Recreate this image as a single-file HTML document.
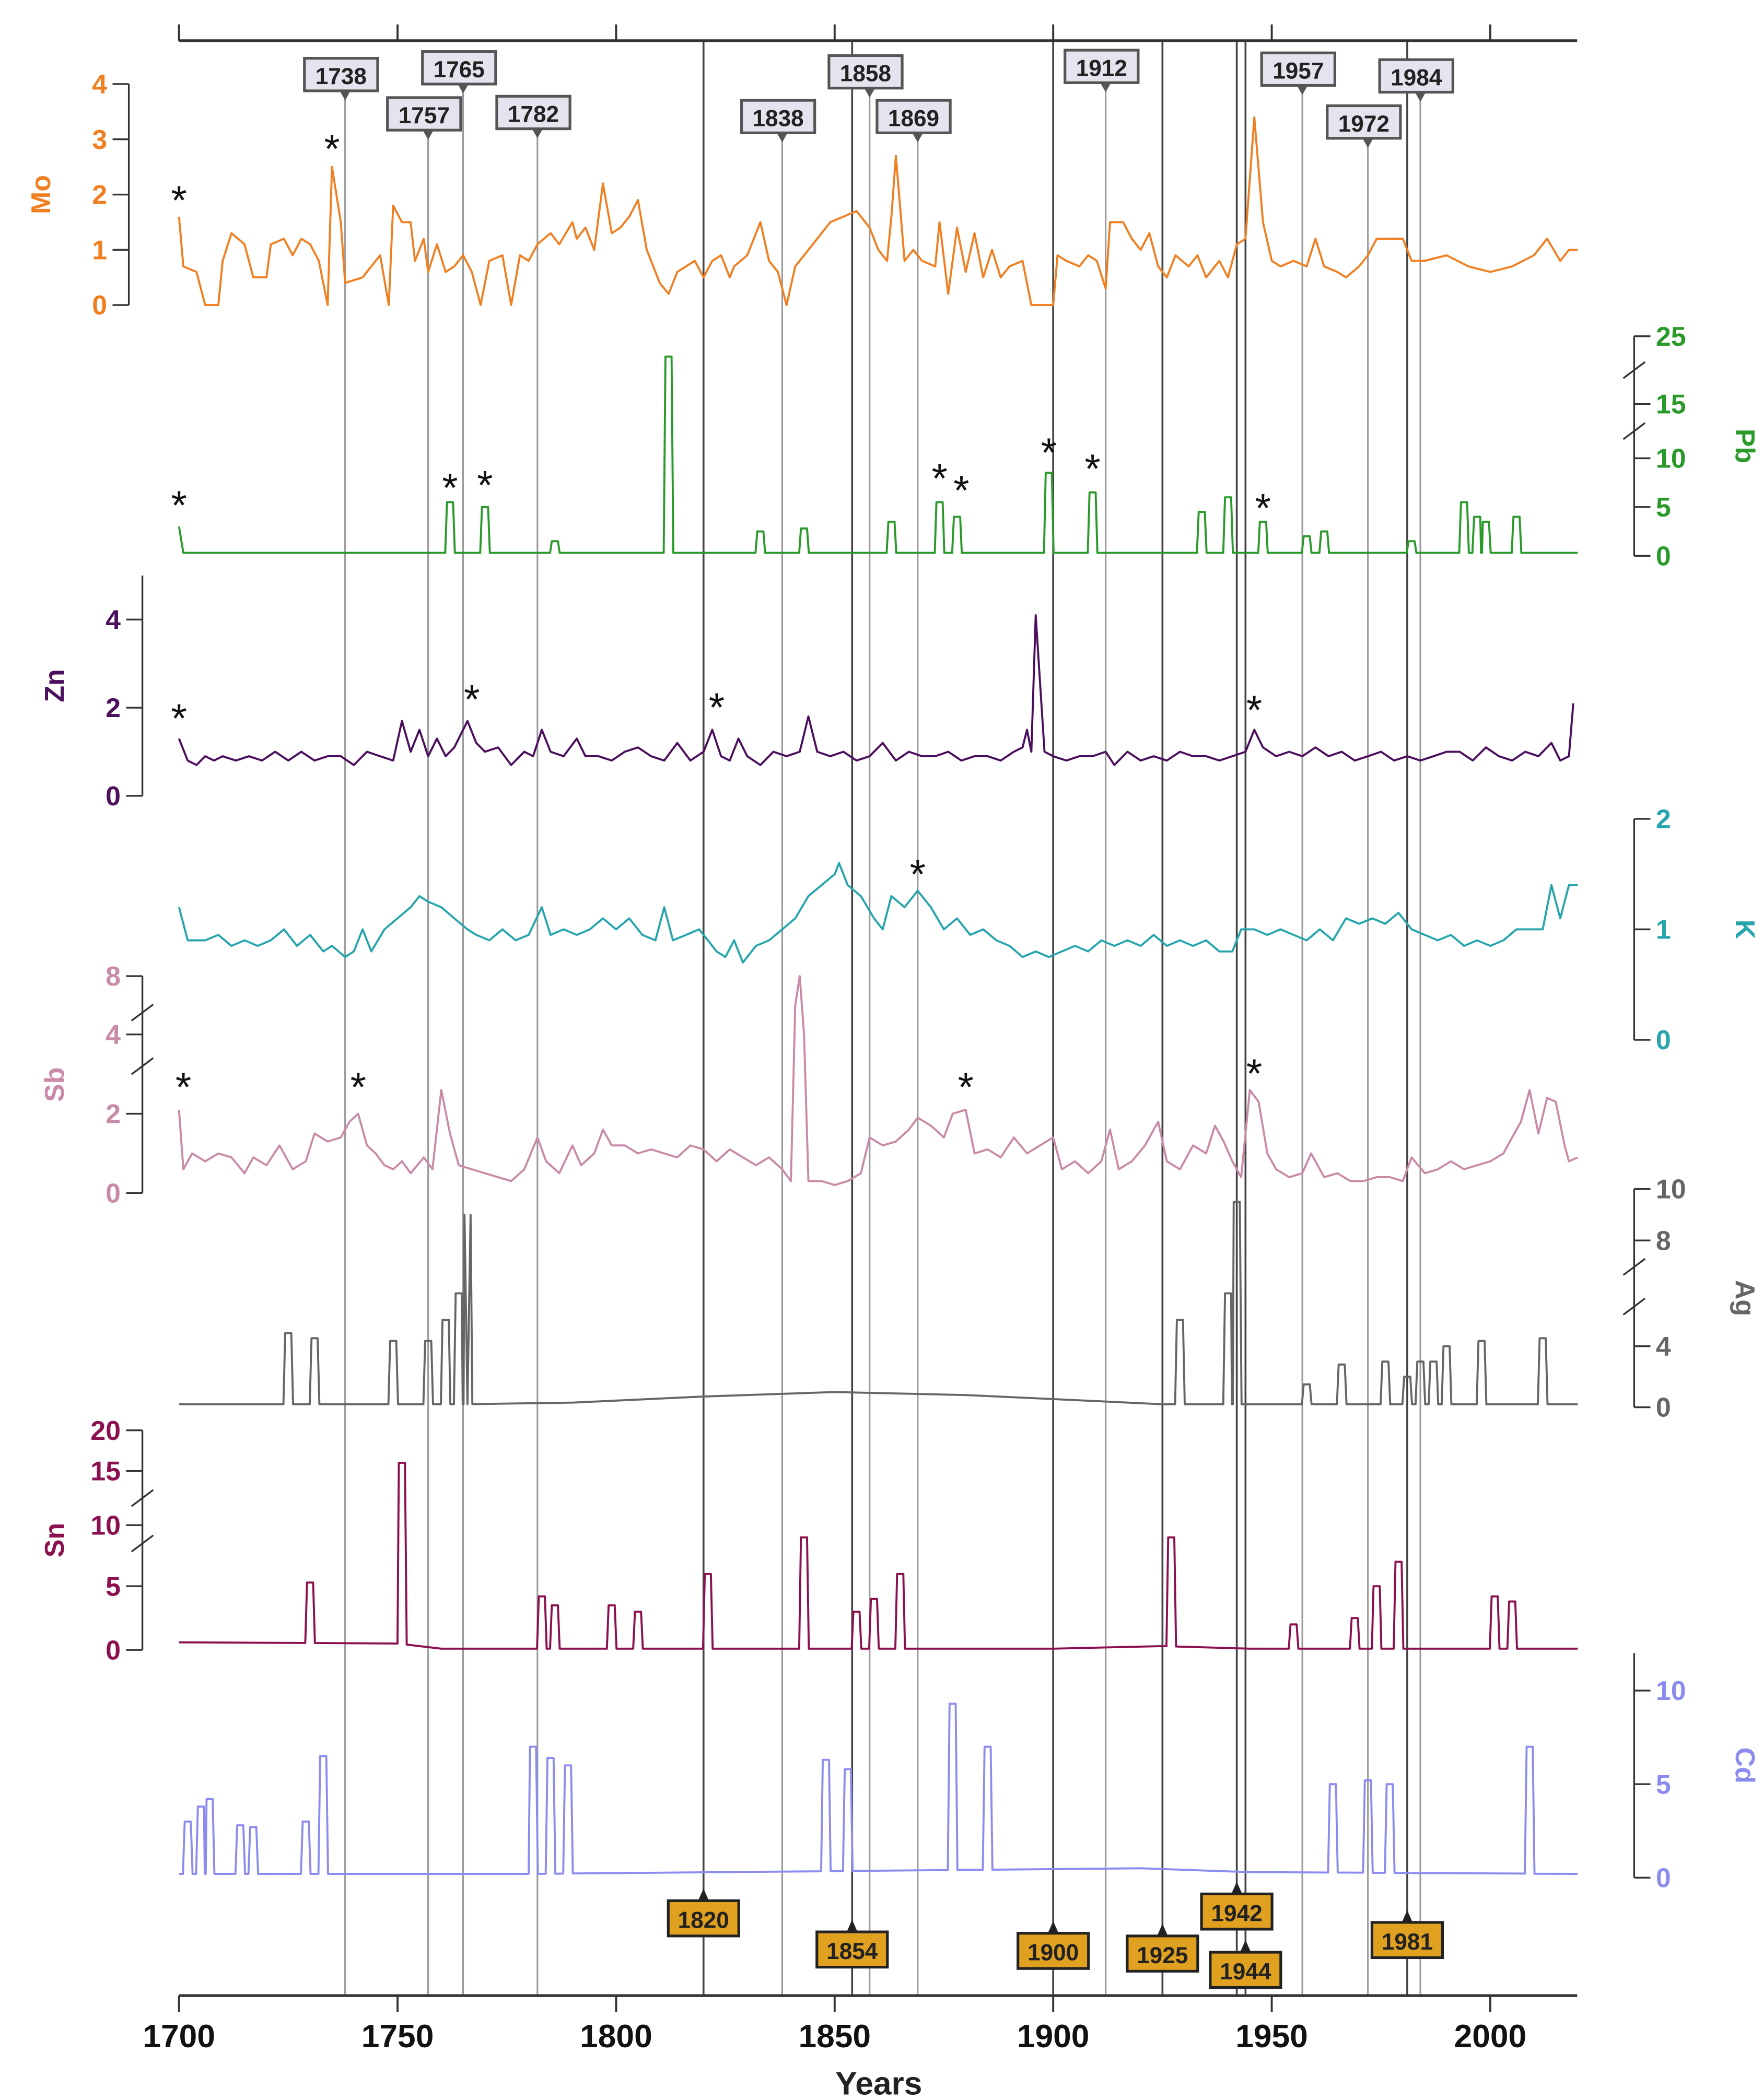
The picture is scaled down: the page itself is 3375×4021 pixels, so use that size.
<!DOCTYPE html>
<html><head><meta charset="utf-8"><style>html,body{margin:0;padding:0;background:#fff}svg{display:block}</style></head>
<body>
<svg id="chart" width="3375" height="4021" viewBox="0 0 1300 1549" preserveAspectRatio="none" xmlns="http://www.w3.org/2000/svg" font-family="Liberation Sans, sans-serif"></svg>
<script>
const moYears=[1700,1701,1704,1706,1709,1710,1712,1715,1717,1720,1721,1724,1726,1728,1730,1732,1734,1735,1737,1738,1742,1745,1746,1748,1749,1751,1753,1754,1756,1757,1759,1761,1763,1765,1767,1769,1771,1774,1776,1778,1780,1782,1785,1787,1790,1791,1793,1795,1797,1799,1801,1803,1805,1807,1810,1812,1814,1818,1820,1822,1824,1826,1827,1830,1833,1835,1837,1839,1841,1843,1846,1849,1852,1855,1858,1860,1862,1863,1864,1866,1868,1870,1873,1874,1876,1878,1880,1882,1884,1886,1888,1890,1893,1895,1900,1901,1903,1906,1908,1910,1912,1913,1916,1918,1920,1922,1924,1926,1928,1931,1933,1935,1938,1940,1942,1944,1946,1948,1950,1952,1955,1958,1960,1962,1965,1967,1970,1972,1974,1980,1982,1985,1990,1995,2000,2005,2010,2013,2016,2018,2020];
const moVals=[1.6,0.7,0.6,0,0,0.8,1.3,1.1,0.5,0.5,1.1,1.2,0.9,1.2,1.1,0.8,0,2.5,1.5,0.4,0.5,0.8,0.9,0,1.8,1.5,1.5,0.8,1.2,0.6,1.1,0.6,0.7,0.9,0.6,0,0.8,0.9,0,0.9,0.8,1.1,1.3,1.1,1.5,1.2,1.4,1.0,2.2,1.3,1.4,1.6,1.9,1.0,0.4,0.2,0.6,0.8,0.5,0.8,0.9,0.5,0.7,0.9,1.5,0.8,0.6,0,0.7,0.9,1.2,1.5,1.6,1.7,1.4,1.0,0.8,1.6,2.7,0.8,1.0,0.8,0.7,1.5,0.2,1.4,0.6,1.3,0.5,1.0,0.5,0.7,0.8,0,0,0.9,0.8,0.7,0.9,0.8,0.3,1.5,1.5,1.2,1.0,1.3,0.7,0.5,0.9,0.7,0.9,0.5,0.8,0.5,1.1,1.2,3.4,1.5,0.8,0.7,0.8,0.7,1.2,0.7,0.6,0.5,0.7,0.9,1.2,1.2,0.8,0.8,0.9,0.7,0.6,0.7,0.9,1.2,0.8,1.0,1.0];
const znYears=[1700,1702,1704,1706,1708,1710,1713,1716,1719,1722,1725,1728,1731,1734,1737,1740,1743,1746,1749,1751,1753,1755,1757,1759,1761,1763,1766,1768,1770,1773,1776,1779,1781,1783,1785,1788,1791,1793,1796,1799,1802,1805,1808,1811,1814,1817,1820,1822,1824,1826,1828,1830,1833,1836,1839,1842,1844,1846,1849,1852,1855,1858,1861,1864,1867,1870,1873,1876,1879,1882,1885,1888,1891,1893,1894,1895,1896,1898,1900,1903,1906,1909,1912,1914,1917,1920,1923,1926,1929,1932,1935,1938,1941,1944,1946,1948,1951,1954,1957,1960,1963,1966,1969,1972,1975,1978,1981,1984,1987,1990,1993,1996,1999,2002,2005,2008,2011,2014,2016,2018,2019];
const znVals=[1.3,0.8,0.7,0.9,0.8,0.9,0.8,0.9,0.8,1.0,0.8,1.0,0.8,0.9,0.9,0.7,1.0,0.9,0.8,1.7,1.0,1.5,0.9,1.3,0.9,1.1,1.7,1.2,1.0,1.1,0.7,1.0,0.9,1.5,1.0,0.9,1.3,0.9,0.9,0.8,1.0,1.1,0.9,0.8,1.2,0.8,1.0,1.5,0.9,0.8,1.3,0.9,0.7,1.0,0.9,1.0,1.8,1.0,0.9,1.0,0.8,0.9,1.2,0.8,1.0,0.9,0.9,1.0,0.8,0.9,0.9,0.8,1.0,1.1,1.5,1.0,4.1,1.0,0.9,0.8,0.9,0.9,1.0,0.7,1.0,0.8,0.9,0.8,1.0,0.9,0.9,0.8,0.9,1.0,1.5,1.1,0.9,1.0,0.9,1.1,0.9,1.0,0.8,0.9,1.0,0.8,0.9,0.8,0.9,1.0,1.0,0.8,1.1,0.9,0.8,1.0,0.9,1.2,0.8,0.9,2.1];
const kYears=[1700,1702,1706,1709,1712,1715,1718,1721,1724,1727,1730,1733,1735,1738,1740,1742,1744,1747,1750,1753,1755,1757,1760,1763,1766,1768,1771,1774,1777,1780,1783,1785,1788,1791,1794,1797,1800,1803,1806,1809,1811,1813,1816,1819,1821,1823,1825,1827,1829,1832,1835,1838,1841,1844,1847,1850,1851,1853,1856,1859,1861,1863,1866,1869,1872,1875,1878,1881,1884,1887,1890,1893,1896,1899,1902,1905,1908,1911,1914,1917,1920,1923,1926,1929,1932,1935,1938,1941,1943,1946,1949,1952,1955,1958,1961,1964,1967,1970,1973,1976,1979,1982,1985,1988,1991,1994,1997,2000,2003,2006,2009,2012,2014,2016,2018,2020];
const kVals=[1.2,0.9,0.9,0.95,0.85,0.9,0.85,0.9,1.0,0.85,0.95,0.8,0.85,0.75,0.8,1.0,0.8,1.0,1.1,1.2,1.3,1.25,1.2,1.1,1.0,0.95,0.9,1.0,0.9,0.95,1.2,0.95,1.0,0.95,1.0,1.1,1.0,1.1,0.95,0.9,1.2,0.9,0.95,1.0,0.9,0.8,0.75,0.9,0.7,0.85,0.9,1.0,1.1,1.3,1.4,1.5,1.6,1.4,1.3,1.1,1.0,1.3,1.2,1.35,1.2,1.0,1.1,0.95,1.0,0.9,0.85,0.75,0.8,0.75,0.8,0.85,0.8,0.9,0.85,0.9,0.85,0.95,0.85,0.9,0.85,0.9,0.8,0.8,1.0,1.0,0.95,1.0,0.95,0.9,1.0,0.9,1.1,1.05,1.1,1.05,1.15,1.0,0.95,0.9,0.95,0.85,0.9,0.85,0.9,1.0,1.0,1.0,1.4,1.1,1.4,1.4];
const sbYears=[1700,1701,1703,1706,1709,1712,1715,1717,1720,1723,1726,1729,1731,1734,1737,1739,1741,1743,1745,1747,1749,1751,1753,1756,1758,1760,1762,1764,1767,1770,1773,1776,1779,1782,1784,1787,1790,1792,1795,1797,1799,1802,1805,1808,1811,1814,1817,1820,1823,1826,1829,1832,1835,1838,1840,1841,1842,1843,1844,1847,1850,1853,1856,1858,1861,1864,1867,1869,1872,1875,1877,1880,1882,1885,1888,1891,1894,1897,1900,1902,1905,1908,1911,1913,1915,1918,1921,1924,1926,1929,1932,1935,1937,1939,1941,1943,1945,1947,1949,1951,1954,1957,1959,1962,1965,1968,1971,1974,1977,1980,1982,1985,1988,1991,1994,1997,2000,2003,2005,2007,2009,2011,2013,2015,2017,2018,2020];
const sbVals=[2.1,0.6,1.0,0.8,1.0,0.9,0.5,0.9,0.7,1.2,0.6,0.8,1.5,1.3,1.4,1.8,2.0,1.2,1.0,0.7,0.6,0.8,0.5,0.9,0.6,2.6,1.5,0.7,0.6,0.5,0.4,0.3,0.6,1.4,0.8,0.5,1.2,0.7,1.0,1.6,1.2,1.2,1.0,1.1,1.0,0.9,1.2,1.1,0.8,1.1,0.9,0.7,0.9,0.6,0.3,6,8,4,0.3,0.3,0.2,0.3,0.5,1.4,1.2,1.3,1.6,1.9,1.7,1.4,2.0,2.1,1.0,1.1,0.9,1.4,1.0,1.2,1.4,0.6,0.8,0.5,0.8,1.6,0.6,0.8,1.2,1.8,0.8,0.6,1.2,1.0,1.7,1.3,0.8,0.4,2.6,2.3,1.0,0.6,0.4,0.5,1.0,0.4,0.5,0.3,0.3,0.4,0.4,0.3,0.9,0.5,0.6,0.8,0.6,0.7,0.8,1.0,1.4,1.8,2.6,1.5,2.4,2.3,1.2,0.8,0.9];
// spike series: baseline + peaks
const pbBaseYears=[1700,1701,2020];
const pbBaseVals=[3,0.3,0.3];
const pbPeakYears=[1762,1770,1786,1812,1833,1843,1863,1874,1878,1899,1909,1934,1940,1948,1958,1962,1982,1994,1997,1999,2006];
const pbPeakVals=[5.5,5,1.5,22,2.5,2.8,3.5,5.5,4,8.5,6.5,4.5,6,3.5,2,2.5,1.5,5.5,4,3.5,4];
const agBaseYears=[1700,1766,1790,1820,1850,1880,1910,1925,2020];
const agBaseVals=[0.2,0.2,0.3,0.7,1.0,0.8,0.4,0.2,0.2];
const agPeakYears=[1725,1731,1749,1757,1761,1764,1766,1929,1940,1942,1958,1966,1976,1981,1984,1987,1990,1998,2012];
const agPeakVals=[4.5,4.3,4.2,4.2,5,6,9,5,6,9.5,1.5,2.8,3,2,3,3,4,4.2,4.3];
const snBaseYears=[1700,1750,1760,1900,1925,1945,2020];
const snBaseVals=[0.6,0.5,0.1,0.1,0.3,0.1,0.1];
const snPeakYears=[1730,1751,1783,1786,1799,1805,1821,1843,1855,1859,1865,1927,1955,1969,1974,1979,2001,2005];
const snPeakVals=[5.3,16,4.2,3.5,3.5,3,6,9,3,4,6,9,2,2.5,5,7,4.2,3.8];
const cdBaseYears=[1700,1780,1920,1945,2020];
const cdBaseVals=[0.2,0.2,0.5,0.3,0.2];
const cdPeakYears=[1702,1705,1707,1714,1717,1729,1733,1781,1785,1789,1848,1853,1877,1885,1964,1972,1977,2009];
const cdPeakVals=[3,3.8,4.2,2.8,2.7,3,6.5,7,6.4,6,6.3,5.8,9.3,7,5,5.2,5,7];
const lightLines=[1738,1757,1765,1782,1838,1858,1869,1912,1957,1972,1984];
const lightTagY=[55,84,50,83,86,53,86,49,51,90,56];
const darkLines=[1820,1854,1900,1925,1942,1944,1981];
const darkTagY=[1415,1438,1439,1441,1410,1453,1431];
const xTicks=[1700,1750,1800,1850,1900,1950,2000];

const svg=document.getElementById('chart');
const NS='http://www.w3.org/2000/svg';
function X(y){return 132+(y-1700)*3.223;}
function pw(stops){return v=>{for(let i=0;i<stops.length-1;i++){const a=stops[i],b=stops[i+1];if(v<=b[0]||i==stops.length-2){return a[1]+(v-a[0])/(b[0]-a[0])*(b[1]-a[1]);}}};}
function mk(tag,attrs,parent){const e=document.createElementNS(NS,tag);for(const k in attrs)e.setAttribute(k,attrs[k]);(parent||svg).appendChild(e);return e;}
function interp(xs,vs,t){for(let i=0;i<xs.length-1;i++){if(t<=xs[i+1])return vs[i]+(t-xs[i])/(xs[i+1]-xs[i])*(vs[i+1]-vs[i]);}return vs[vs.length-1];}

const S={
 Mo:{y:pw([[0,225],[4,62]]),c:'#f07f22'},
 Pb:{y:pw([[0,410],[10,338],[15,298],[25,248]]),c:'#2a9a2a'},
 Zn:{y:pw([[0,587],[4,457]]),c:'#4b0f5e'},
 K:{y:pw([[0,767],[2,604]]),c:'#27a5ad'},
 Sb:{y:pw([[0,880],[4,763],[8,720]]),c:'#c98aa8'},
 Ag:{y:pw([[0,1038],[4,993],[8,915],[10,877]]),c:'#666666'},
 Sn:{y:pw([[0,1217],[5,1170],[10,1125],[15,1085],[20,1055]]),c:'#8b1050'},
 Cd:{y:pw([[0,1385],[10,1247]]),c:'#8c8cf0'}
};

// vertical lines
lightLines.forEach((yr,i)=>{const l=mk('line',{x1:X(yr),x2:X(yr),y1:lightTagY[i]+8,y2:1472,stroke:'#999','stroke-width':1.2});
});
darkLines.forEach((yr,i)=>{const l=mk('line',{x1:X(yr),x2:X(yr),y1:30,y2:1472,stroke:'#444','stroke-width':1.4});
});

function drawLine(name,xs,vs){const s=S[name];const pts=xs.map((x,i)=>X(x).toFixed(1)+','+s.y(vs[i]).toFixed(1)).join(' ');
const p=mk('polyline',{points:pts,fill:'none',stroke:s.c,'stroke-width':1.5,'stroke-linejoin':'round'});
}
function drawSpikes(name,bx,bv,px,pv){let pts=[];bx.forEach((x,i)=>pts.push([x,bv[i]]));
px.forEach((x,i)=>{pts.push([x-1.1,interp(bx,bv,x-1.1)]);pts.push([x-0.7,pv[i]]);pts.push([x+0.7,pv[i]]);pts.push([x+1.1,interp(bx,bv,x+1.1)]);});
pts.sort((a,b)=>a[0]-b[0]);drawLine(name,pts.map(p=>p[0]),pts.map(p=>p[1]));}

drawLine('Mo',moYears,moVals);
drawSpikes('Pb',pbBaseYears,pbBaseVals,pbPeakYears,pbPeakVals);
drawLine('Zn',znYears,znVals);
drawLine('K',kYears,kVals);
drawLine('Sb',sbYears,sbVals);
drawSpikes('Ag',agBaseYears,agBaseVals,agPeakYears,agPeakVals);
drawSpikes('Sn',snBaseYears,snBaseVals,snPeakYears,snPeakVals);
drawSpikes('Cd',cdBaseYears,cdBaseVals,cdPeakYears,cdPeakVals);

// y axes
function yAxis(name,side,x,ticks,lo,hi,breaks){const s=S[name];const g=mk('g',{});

mk('line',{x1:x,x2:x,y1:s.y(lo),y2:s.y(hi),stroke:'#333','stroke-width':1.3},g);
const d=side=='L'?-1:1;
ticks.forEach(t=>{const y=s.y(t);mk('line',{x1:x,x2:x+12*d,y1:y,y2:y,stroke:'#333','stroke-width':1.3},g);
const tx=mk('text',{x:x+16*d,y:y+7,'text-anchor':side=='L'?'end':'start','font-size':20,'font-weight':'bold',fill:s.c},g);tx.textContent=t;});
(breaks||[]).forEach(b=>{const y=s.y(b);mk('line',{x1:x-8,x2:x+8,y1:y+6,y2:y-6,stroke:'#333','stroke-width':1.3},g);});
const lx=side=='L'?x-58:x+75, ly=(s.y(lo)+s.y(hi))/2;
const lb=mk('text',{x:lx,y:ly,'text-anchor':'middle','font-size':20,'font-weight':'bold',fill:s.c,transform:`rotate(${side=='L'?-90:90} ${lx} ${ly})`},g);lb.textContent=name;}
yAxis('Mo','L',95,[0,1,2,3,4],0,4);
yAxis('Pb','R',1205,[0,5,10,15,25],0,25,[12.5,20]);
yAxis('Zn','L',105,[0,2,4],0,5);
yAxis('K','R',1205,[0,1,2],0,2);
yAxis('Sb','L',105,[0,2,4,8],0,8,[3.2,5.5]);
yAxis('Ag','R',1205,[0,4,8,10],0,10,[5.5,7]);
yAxis('Sn','L',105,[0,5,10,15,20],0,20,[8.5,12.5]);
yAxis('Cd','R',1205,[0,5,10],0,12);

// x axes
const xa=mk('g',{});
mk('line',{x1:132,x2:1163,y1:1472,y2:1472,stroke:'#333','stroke-width':2},xa);
mk('line',{x1:132,x2:1163,y1:30,y2:30,stroke:'#333','stroke-width':2},xa);
xTicks.forEach(t=>{mk('line',{x1:X(t),x2:X(t),y1:1472,y2:1484,stroke:'#333','stroke-width':1.5},xa);
mk('line',{x1:X(t),x2:X(t),y1:18,y2:30,stroke:'#333','stroke-width':1.5},xa);
const tx=mk('text',{x:X(t),y:1510,'text-anchor':'middle','font-size':24,'font-weight':'bold',fill:'#111'},xa);tx.textContent=t;});
const xt=mk('text',{x:648,y:1545,'text-anchor':'middle','font-size':24,'font-weight':'bold',fill:'#222'});xt.textContent='Years';


// tags
lightLines.forEach((yr,i)=>{const g=mk('g',{});
const x=X(yr)-3,y=lightTagY[i];mk('rect',{x:x-27,y:y-12,width:54,height:24,fill:'#e4e4ee',stroke:'#555','stroke-width':2},g);
mk('path',{d:`M${X(yr)-4},${y+12} L${X(yr)+4},${y+12} L${X(yr)},${y+19}Z`,fill:'#555'},g);
const t=mk('text',{x:x,y:y+7,'text-anchor':'middle','font-size':17,'font-weight':'bold',fill:'#222'},g);t.textContent=yr;});
darkLines.forEach((yr,i)=>{const g=mk('g',{});
const x=X(yr),y=darkTagY[i];mk('rect',{x:x-26,y:y-13,width:52,height:26,fill:'#e0a020',stroke:'#222','stroke-width':2},g);
mk('path',{d:`M${x-4},${y-13} L${x+4},${y-13} L${x},${y-22}Z`,fill:'#222'},g);
const t=mk('text',{x:x,y:y+7,'text-anchor':'middle','font-size':17,'font-weight':'bold',fill:'#222'},g);t.textContent=yr;});

// stars
const starX=[1700,1735,1700,1762,1770,1874,1879,1899,1909,1948,1700,1767,1823,1946,1869,1701,1741,1880,1946];
const starY=[158,120,383,370,368,363,372,344,356,385,540,526,532,534,655,812,812,812,802];
starX.forEach((yr,i)=>{const t=mk('text',{x:X(yr),y:starY[i],'text-anchor':'middle','font-size':30,fill:'#111'});t.textContent='*';
});
</script>
</body></html>
